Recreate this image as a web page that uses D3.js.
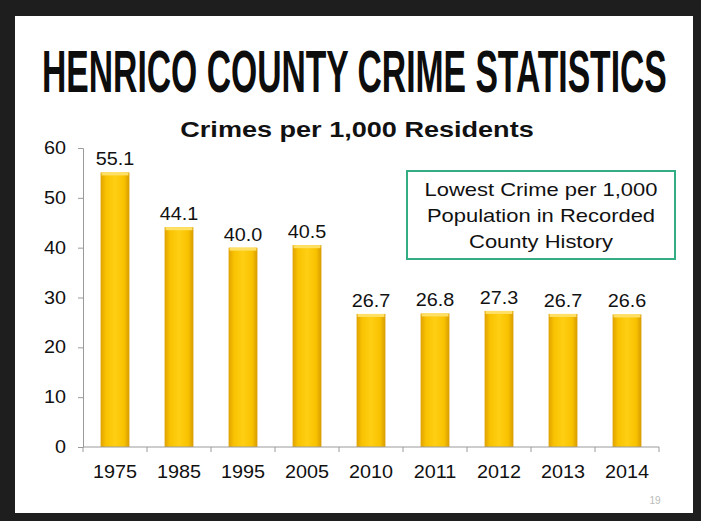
<!DOCTYPE html>
<html>
<head>
<meta charset="utf-8">
<script src="https://cdn.jsdelivr.net/npm/d3@7"></script>
<style>
  body { margin: 0; background: #1e1e1e; }
  svg { display: block; }
</style>
</head>
<body>
<script>
// values
var years = ["1975", "1985", "1995", "2005", "2010", "2011", "2012", "2013", "2014"];
var rates = [55.1, 44.1, 40.0, 40.5, 26.7, 26.8, 27.3, 26.7, 26.6];
var yTicks = [0, 10, 20, 30, 40, 50, 60];
var noteLines = ["Lowest Crime per 1,000", "Population in Recorded", "County History"];

var width = 701,
    height = 521;

var svg = d3.select("body")
            .append("svg")
            .attr("width", width)
            .attr("height", height);

// slide
svg.append("rect")
   .attr("x", 0).attr("y", 0)
   .attr("width", width).attr("height", height)
   .attr("fill", "#1e1e1e");
svg.append("rect")
   .attr("x", 15).attr("y", 16)
   .attr("width", 678).attr("height", 497)
   .attr("fill", "#ffffff");

// text on the slide is stretched sideways
function stretched(g, x, y, str, size, anchor, weight, sx) {
    return g.append("text")
            .attr("transform", "translate(" + x + "," + y + ") scale(" + (sx || 1.1) + ",1)")
            .attr("text-anchor", anchor)
            .attr("font-family", "Liberation Sans, Arial, sans-serif")
            .attr("font-size", size)
            .attr("font-weight", weight || "normal")
            .attr("fill", "#111")
            .text(str);
}

// title squeezed to span 42..667
var title = svg.append("text")
   .attr("font-family", "Liberation Sans, Arial, sans-serif")
   .attr("font-weight", "bold")
   .attr("font-size", 60)
   .attr("fill", "#0d0d0d")
   .text("HENRICO COUNTY CRIME STATISTICS");
var tw = title.node().getComputedTextLength();
title.attr("transform", "translate(42,92) scale(" + (625 / tw) + ",1)");

stretched(svg, 357, 137, "Crimes per 1,000 Residents", 22, "middle", "bold", 1.23);

var x = d3.scaleBand()
          .domain(years)
          .range([83, 659])
          .paddingInner(0.55)
          .paddingOuter(0.275);

var y = d3.scaleLinear()
          .domain([0, 60])
          .range([447, 148]);

var defs = svg.append("defs");
var grad = defs.append("linearGradient")
               .attr("id", "gold")
               .attr("x1", "0").attr("x2", "1")
               .attr("y1", "0").attr("y2", "0");
grad.append("stop").attr("offset", "0%").attr("stop-color", "#e0a000");
grad.append("stop").attr("offset", "18%").attr("stop-color", "#f8c200");
grad.append("stop").attr("offset", "50%").attr("stop-color", "#ffcf14");
grad.append("stop").attr("offset", "82%").attr("stop-color", "#f8c200");
grad.append("stop").attr("offset", "100%").attr("stop-color", "#d89a00");

var g = svg.append("g");

g.selectAll("rect.bar")
 .data(rates)
 .enter()
 .append("rect")
    .attr("class", "bar")
    .attr("x", (d, i) => x(years[i]))
    .attr("y", d => y(d))
    .attr("width", x.bandwidth())
    .attr("height", d => y(0) - y(d))
    .attr("fill", "url(#gold)");

// lighter cap on top of each bar
g.selectAll("rect.cap")
 .data(rates)
 .enter()
 .append("rect")
    .attr("class", "cap")
    .attr("x", (d, i) => x(years[i]) + 1)
    .attr("y", d => y(d))
    .attr("width", x.bandwidth() - 2)
    .attr("height", 3)
    .attr("fill", "#ffe066");

rates.forEach(function(d, i) {
    stretched(g, x(years[i]) + x.bandwidth() / 2, y(d) - 7, d.toFixed(1), 18, "middle");
});

// axes
var yAxis = d3.axisLeft(y)
              .tickValues(yTicks)
              .tickSize(5)
              .tickFormat(d3.format("d"));
var ya = svg.append("g")
            .attr("transform", "translate(83,0)")
            .call(yAxis);
ya.selectAll("text").remove();
ya.selectAll("path, line").attr("stroke", "#9a9a9a");
yTicks.forEach(function(t) {
    stretched(svg, 66, y(t) + 6, String(t), 18, "end");
});

var xa = svg.append("g")
            .attr("transform", "translate(0,447)");
xa.append("line")
  .attr("x1", 83).attr("x2", 659)
  .attr("y1", 0).attr("y2", 0)
  .attr("stroke", "#9a9a9a");
xa.selectAll("line.tick")
  .data(years.concat(["end"]))
  .enter()
  .append("line")
    .attr("class", "tick")
    .attr("x1", (d, i) => 83 + i * x.step())
    .attr("x2", (d, i) => 83 + i * x.step())
    .attr("y1", 0).attr("y2", 5)
    .attr("stroke", "#9a9a9a");
years.forEach(function(yr) {
    stretched(svg, x(yr) + x.bandwidth() / 2, 478, yr, 18, "middle");
});

// note box
svg.append("rect")
   .attr("x", 407).attr("y", 171)
   .attr("width", 268).attr("height", 88)
   .attr("fill", "#fff")
   .attr("stroke", "#35ad84")
   .attr("stroke-width", 2);
noteLines.forEach(function(l, i) {
    stretched(svg, 541, 196 + i * 26, l, 18, "middle", "normal", 1.22);
});

// page number
svg.append("text")
   .attr("x", 655).attr("y", 504)
   .attr("text-anchor", "middle")
   .attr("font-family", "Liberation Sans, Arial, sans-serif")
   .attr("font-size", 10)
   .attr("fill", "#bbb")
   .text("19");
</script>
</body>
</html>
